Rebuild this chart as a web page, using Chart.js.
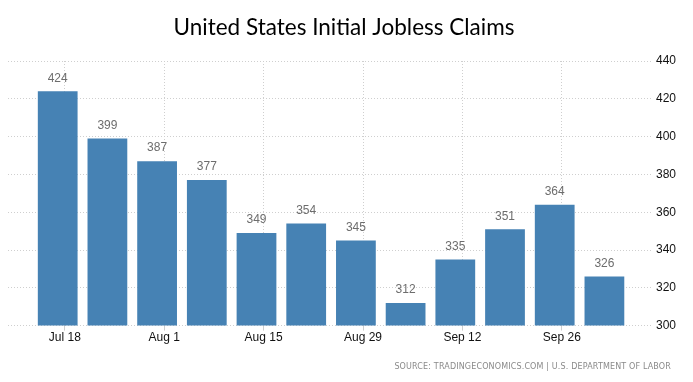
<!DOCTYPE html>
<html>
<head>
<meta charset="utf-8">
<script src="https://cdn.jsdelivr.net/npm/chart.js@4"></script>
<style>
  html, body { margin: 0; padding: 0; background: #fff; }
  #wrap { width: 693px; height: 382px; }
</style>
</head>
<body>
<div id="wrap"><canvas id="claims"></canvas></div>
<script>
/*===== DATA =====*/

// week ending dates and initial claims (thousands)
const weeks = ["2021-07-17", "2021-07-24", "2021-07-31", "2021-08-07", "2021-08-14", "2021-08-21",
               "2021-08-28", "2021-09-04", "2021-09-11", "2021-09-18", "2021-09-25", "2021-10-02"];
const claims = [424, 399, 387, 377, 349, 354, 345, 312, 335, 351, 364, 326];

const tickDates = ["2021-07-18", "2021-08-01", "2021-08-15", "2021-08-29", "2021-09-12", "2021-09-26"];
const tickLabels = ["Jul 18", "Aug 1", "Aug 15", "Aug 29", "Sep 12", "Sep 26"];

const yTicks = [300, 320, 340, 360, 380, 400, 420, 440];

/*===== HELPERS =====*/

var toDay = function(s) {
    return Date.parse(s) / 86400000;
};

let weekDays = weeks.map(toDay);
let tickDays = tickDates.map(toDay);

/*===== PLUGINS =====*/

var valueLabels = {
    id: "valueLabels",
    afterDatasetsDraw: function(chart) {
        var ctx = chart.ctx;
        var meta = chart.getDatasetMeta(0);
        ctx.save();
        ctx.font = "12px 'Liberation Sans'";
        ctx.fillStyle = "#6d6d6d";
        ctx.textAlign = "center";
        ctx.textBaseline = "middle";
        meta.data.forEach(function(bar, i) {
            ctx.fillText(claims[i], bar.x, bar.y - 13);
        });
        ctx.restore();
    }
};

var sourceNote = {
    id: "sourceNote",
    afterDraw: function(chart) {
        var ctx = chart.ctx;
        ctx.save();
        ctx.font = "8px 'DejaVu Sans'";
        ctx.letterSpacing = "0.15px";
        ctx.fillStyle = "#8a8a8a";
        ctx.textAlign = "right";
        ctx.textBaseline = "middle";
        ctx.fillText("SOURCE: TRADINGECONOMICS.COM | U.S. DEPARTMENT OF LABOR", 671, 367);
        ctx.restore();
    }
};

/*===== CHART =====*/

new Chart("claims", {
    type: "bar",
    data: {
        datasets: [{
            label: "Initial Jobless Claims",
            backgroundColor: "#4682b4",
            data: weekDays.map(function(d, i) { return { x: d, y: claims[i] }; }),
            categoryPercentage: 1,
            barPercentage: 0.8
        }]
    },
    options: {
        responsive: true,
        maintainAspectRatio: false,
        animation: false,
        layout: {
            padding: { left: 8, right: 13, top: 0, bottom: 37 }
        },
        scales: {
            x: {
                type: "linear",
                offset: false,
                min: weekDays[0] - 7,
                max: weekDays[weekDays.length - 1] + 6.7,
                afterBuildTicks: function(scale) {
                    scale.ticks = tickDays.map(function(v) { return { value: v }; });
                },
                grid: {
                    offset: false,
                    color: "#cfcfcf",
                    tickLength: 5
                },
                border: { display: false, dash: [1, 2] },
                ticks: {
                    color: "#111",
                    font: { family: "Liberation Sans", size: 12 },
                    padding: 0,
                    maxRotation: 0,
                    autoSkip: false,
                    callback: function(v) { return tickLabels[tickDays.indexOf(v)]; }
                }
            },
            y: {
                position: "right",
                min: 300,
                max: 440,
                afterBuildTicks: function(scale) {
                    scale.ticks = yTicks.map(function(v) { return { value: v }; });
                },
                grid: {
                    color: "#cfcfcf",
                    drawTicks: false
                },
                border: { display: false, dash: [1, 2] },
                ticks: {
                    color: "#111",
                    font: { family: "Liberation Sans", size: 12 },
                    padding: 4
                }
            }
        },
        plugins: {
            legend: { display: false },
            tooltip: { enabled: false },
            title: {
                display: true,
                text: "United States Initial Jobless Claims",
                color: "#000",
                font: { family: "Lato", size: 22.5, weight: "normal" },
                padding: { top: 14, bottom: 20 }
            }
        }
    },
    plugins: [valueLabels, sourceNote]
});
</script>
</body>
</html>
